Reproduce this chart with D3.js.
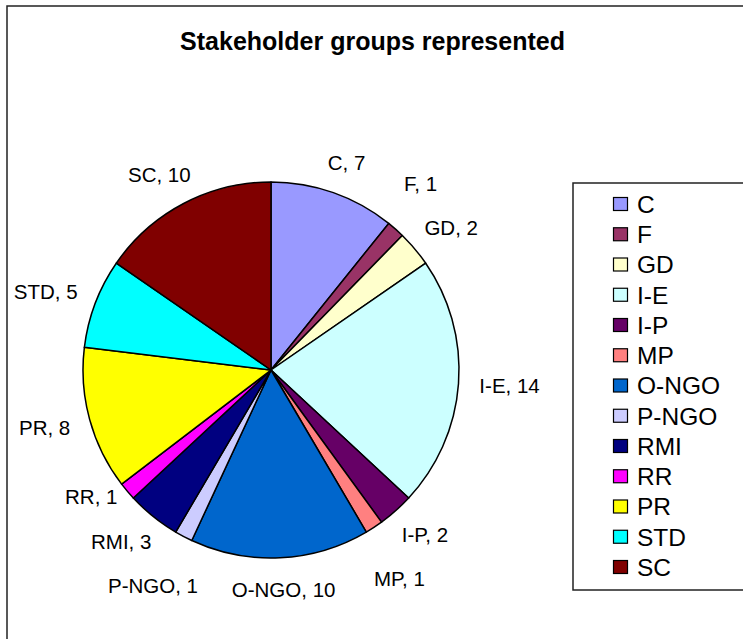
<!DOCTYPE html>
<html>
<head>
<meta charset="utf-8">
<script src="https://cdn.jsdelivr.net/npm/d3@7/dist/d3.min.js"></script>
<style>
  html, body { margin: 0; padding: 0; background: #fff; }
  svg { display: block; font-family: Arial, "Liberation Sans", sans-serif; }
</style>
</head>
<body>
<svg id="chart" width="743" height="639"></svg>
<script>
// ---- data ----
const categories = ["C", "F", "GD", "I-E", "I-P", "MP", "O-NGO", "P-NGO", "RMI", "RR", "PR", "STD", "SC"];
const values = [7, 1, 2, 14, 2, 1, 10, 1, 3, 1, 8, 5, 10];
const colors = ["#9999FF", "#993366", "#FFFFCC", "#CCFFFF", "#660066", "#FF8080", "#0066CC",
                "#CCCCFF", "#000080", "#FF00FF", "#FFFF00", "#00FFFF", "#800000"];
const title = "Stakeholder groups represented";

// ---- layout ----
const cx = 271, cy = 370, R = 188;
const svg = d3.select("#chart");

// outer chart border (extends beyond right/bottom edges)
svg.append("rect").attr("x", 7).attr("y", 6).attr("width", 800).attr("height", 800)
  .attr("fill", "none").attr("stroke", "#222").attr("stroke-width", 1.5);

svg.append("text").attr("x", 372.5).attr("y", 50).attr("text-anchor", "middle")
  .attr("font-size", 25).attr("font-weight", "bold").attr("fill", "#000").text(title);

const data = categories.map((c, i) => ({ cat: c, value: values[i], color: colors[i], idx: i }));
const pie = d3.pie().value(d => d.value).sort(null);
const arcs = pie(data);
const arc = d3.arc().innerRadius(0).outerRadius(R);
const color = d3.scaleOrdinal().domain(categories).range(colors);

const g = svg.append("g").attr("transform", `translate(${cx},${cy})`);
g.selectAll("path").data(arcs).join("path")
  .attr("d", arc)
  .attr("fill", d => color(d.data.cat))
  .attr("stroke", "#000").attr("stroke-width", 1.5).attr("stroke-linejoin", "round");

// ---- data labels (outside placement, vertical collision avoidance) ----
const labelFont = 20.5, boxH = 22, gap = 21, padX = 4, padY = 22;
const labels = g.append("g");
const items = arcs.map(a => {
  const t = labels.append("text").attr("font-size", labelFont).attr("fill", "#000")
    .attr("text-anchor", "middle").attr("dy", "0.35em")
    .text(`${a.data.cat}, ${a.data.value}`);
  const w = t.node().getComputedTextLength();
  const ang = (a.startAngle + a.endAngle) / 2;
  return { a, t, w, ux: Math.sin(ang), uy: -Math.cos(ang) };
});
function box(x, y, w) {
  return { x, y, x0: x - w / 2, x1: x + w / 2, y0: y - boxH / 2, y1: y + boxH / 2 };
}
const order = d3.range(items.length).sort((i, j) => d3.descending(values[i], values[j]) || i - j);
const placed = [];
order.forEach(i => {
  const it = items[i];
  const dist = R + gap;
  const x = it.ux * dist + it.ux * it.w / 2;
  let y = it.uy * dist + it.uy * boxH / 2;
  let b = box(x, y, it.w);
  for (let k = 0; k < 300; k++) {
    const p = placed.find(p => b.x0 < p.x1 + padX && b.x1 > p.x0 - padX && b.y0 < p.y1 + padY && b.y1 > p.y0 - padY);
    if (!p) break;
    y += (b.y < p.y ? -1 : 1);
    b = box(x, y, it.w);
  }
  placed.push(b);
  it.t.attr("x", b.x).attr("y", b.y);
});

// ---- legend ----
const lg = svg.append("g");
lg.append("rect").attr("x", 573).attr("y", 183).attr("width", 300).attr("height", 407)
  .attr("fill", "#fff").attr("stroke", "#222").attr("stroke-width", 1.5);
const rowY = d3.scaleLinear().domain([0, categories.length - 1]).range([204, 567]);
const rows = lg.selectAll("g.row").data(data).join("g").attr("class", "row")
  .attr("transform", (d, i) => `translate(0,${rowY(i)})`);
rows.append("rect").attr("x", 613.5).attr("y", -6.5).attr("width", 14).attr("height", 13)
  .attr("fill", d => color(d.cat)).attr("stroke", "#000").attr("stroke-width", 1.2);
rows.append("text").attr("x", 637).attr("y", 0).attr("dy", "0.36em")
  .attr("font-size", 24.5).attr("fill", "#000").text(d => d.cat);
</script>
</body>
</html>
